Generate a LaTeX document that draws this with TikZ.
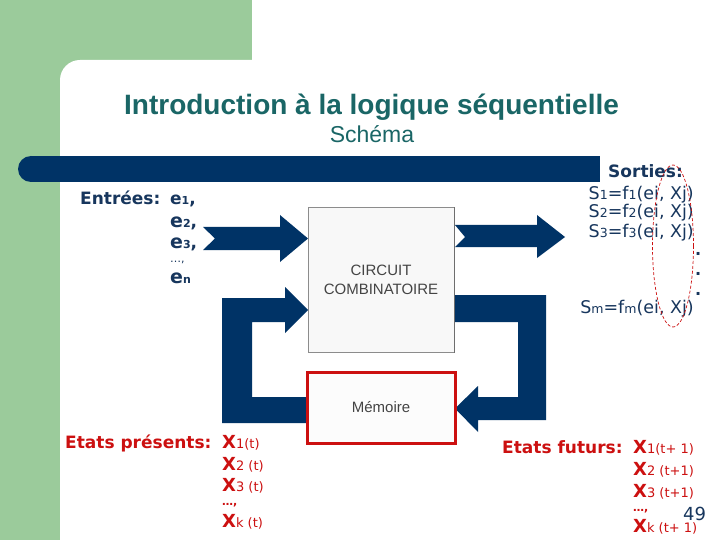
\documentclass[tikz,border=0pt]{standalone}
\usepackage{fontspec}
\setmainfont{DejaVu Sans}
\newfontfamily\arialf{Liberation Sans}
\definecolor{navy}{RGB}{0,51,102}
\definecolor{txtblue}{RGB}{23,54,93}
\definecolor{titleteal}{RGB}{26,102,102}
\definecolor{myred}{RGB}{204,16,16}
\definecolor{bggreen}{RGB}{155,203,155}
\definecolor{boxgray}{RGB}{140,140,140}
\definecolor{boxtext}{RGB}{68,68,68}
\newcommand{\smt}[1]{{\fontsize{11}{11}\selectfont #1}}
\newcommand{\sst}[1]{{\fontsize{12.5}{12.5}\selectfont #1}}
\newcommand{\mdt}[1]{{\fontsize{13}{13}\selectfont #1}}
\newcommand{\bigE}{{\fontsize{19}{19}\selectfont\bfseries e}}
\newcommand{\bigX}{{\fontsize{18}{18}\selectfont\bfseries X}}
\begin{document}
\begin{tikzpicture}[x=1pt,y=-1pt,
  lbl/.style={inner sep=0pt, anchor=base west},
  lblr/.style={inner sep=0pt, anchor=base east},
  inlbl/.style={lbl, text=txtblue, font=\fontsize{17}{17}\selectfont\bfseries},
  elbl/.style={lbl, text=txtblue, font=\fontsize{17}{17}\selectfont\bfseries},
  outlbl/.style={lblr, text=txtblue, font=\fontsize{17.5}{17.5}\selectfont},
  stlbl/.style={lbl, text=myred, font=\fontsize{17}{17}\selectfont\bfseries},
  xlbl/.style={lbl, text=myred, font=\fontsize{13}{13}\selectfont},
  fat/.style={fill=navy},
  circbox/.style={draw=boxgray, line width=1pt, fill={rgb,255:red,248;green,248;blue,248},
    minimum width=146pt, minimum height=144pt, inner sep=0pt, align=center,
    text=boxtext, font=\arialf\fontsize{15}{19}\selectfont},
  membox/.style={draw=myred, line width=3pt, fill={rgb,255:red,252;green,252;blue,252},
    minimum width=148pt, minimum height=71pt, inner sep=0pt,
    text=boxtext, font=\arialf\fontsize{15}{15}\selectfont}
]
\useasboundingbox (0,0) rectangle (720,540);
% background
\fill[white] (0,0) rectangle (720,540);
\fill[bggreen] (0,0) rectangle (252,100);
\fill[bggreen] (0,0) rectangle (60,540);
\fill[white, rounded corners=20pt] (60,580) -- (60,60) -- (760,60) -- (760,580) -- cycle;
% title bar
\fill[navy] (31,156) rectangle (600,182);
\fill[navy] (31,169) circle[radius=13pt];
% titles
\node[inner sep=0pt, anchor=base, text=titleteal, font=\arialf\fontsize{28}{28}\selectfont\bfseries] (title) at (371.5,115) {Introduction à la logique séquentielle};
\node[inner sep=0pt, anchor=base, text=titleteal, font=\arialf\fontsize{23}{23}\selectfont] (subtitle) at (372,143) {Schéma};
% fat arrows
\fill[fat] (203,227) -- (280,227) -- (280,215) -- (308,238.5) -- (280,262) -- (280,250) -- (203,250) -- (215,238.5) -- cycle;
\fill[fat] (455,225) -- (537,225) -- (537,215) -- (565,237) -- (537,258) -- (537,247) -- (455,247) -- (465,237) -- cycle;
\fill[fat] (308,423) -- (222,423) -- (222,298) -- (285,298) -- (285,287) -- (308,310) -- (285,333) -- (285,322) -- (252,322) -- (252,397) -- (308,397) -- cycle;
\fill[fat] (454,295) -- (546,295) -- (546,420) -- (478,420) -- (478,432) -- (455,408.5) -- (478,386) -- (478,397) -- (518,397) -- (518,322) -- (454,322) -- cycle;
% boxes
\node[circbox] (circ) at (381,280) {CIRCUIT\\COMBINATOIRE};
\draw[line width=1.6pt, draw={rgb,255:red,110;green,110;blue,110}] (circ.north east) -- (circ.south east);
\node[membox] (mem) at (381,407.5) {Mémoire};
% inputs
\node[inlbl] (ent) at (80,205) {Entrées:};
\node[elbl] (e1) at (170,205) {{\fontsize{17}{17}\selectfont e}\smt{1},};
\node[elbl] (e2) at (170,227) {\bigE\smt{2},};
\node[elbl] (e3) at (170,248) {\bigE\smt{3},};
\node[elbl, font=\fontsize{11}{11}\selectfont] (edots) at (170,262) {\dots,};
\node[elbl] (en) at (170,283) {\bigE\smt{n}};
% outputs
\node[inlbl] (sort) at (608,178) {Sorties:};
\node[outlbl] (s1) at (694,200) {S\sst{1}=f\sst{1}(ei, Xj)};
\node[outlbl] (s2) at (694,218) {S\sst{2}=f\sst{2}(ei, Xj)};
\node[outlbl] (s3) at (694,237) {S\sst{3}=f\sst{3}(ei, Xj)};
\node[lbl, text=txtblue, font=\fontsize{16}{16}\selectfont\bfseries] (d1) at (695,255) {.};
\node[lbl, text=txtblue, font=\fontsize{16}{16}\selectfont\bfseries] (d2) at (695,275) {.};
\node[lbl, text=txtblue, font=\fontsize{16}{16}\selectfont\bfseries] (d3) at (695,295) {.};
\node[outlbl] (sm) at (694,313) {S\sst{m}=f\sst{m}(ei, Xj)};
\draw[myred, line width=0.7pt, dash pattern=on 3pt off 2pt] (673,246) ellipse [x radius=20.5pt, y radius=81pt];
% present states
\node[stlbl] (ep) at (65,448) {Etats présents:};
\node[xlbl] (p1) at (222,448) {\bigX\mdt{1(t)}};
\node[xlbl] (p2) at (222,470) {\bigX\mdt{2 (t)}};
\node[xlbl] (p3) at (222,491) {\bigX\mdt{3 (t)}};
\node[xlbl, font=\fontsize{11}{11}\selectfont\bfseries] (pd) at (222,505) {\dots,};
\node[xlbl] (pk) at (222,527) {\bigX\mdt{k (t)}};
% future states
\node[stlbl] (ef) at (502,453) {Etats futurs:};
\node[xlbl] (f1) at (633,453) {\bigX\mdt{1(t+ 1)}};
\node[xlbl] (f2) at (633,475) {\bigX\mdt{2 (t+1)}};
\node[xlbl] (f3) at (633,497) {\bigX\mdt{3 (t+1)}};
\node[xlbl, font=\fontsize{11}{11}\selectfont\bfseries] (fd) at (633,511) {\dots,};
\node[xlbl] (fk) at (633,532) {\bigX\mdt{k (t+ 1)}};
\node[lbl, text=txtblue, font=\fontsize{18}{18}\selectfont] (pg) at (683,520) {49};
\end{tikzpicture}
\end{document}
